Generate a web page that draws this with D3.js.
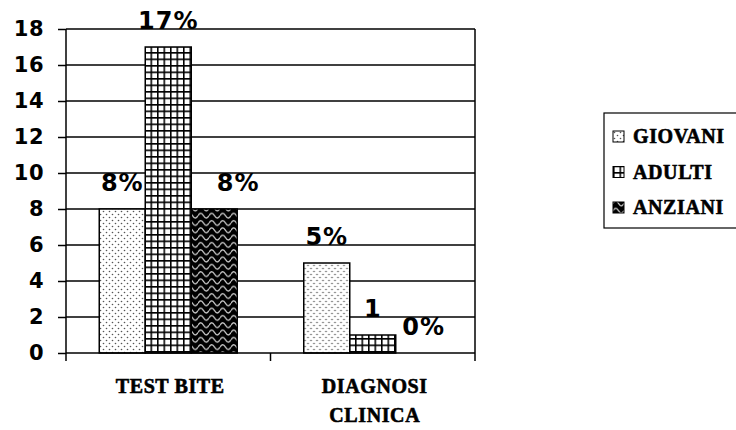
<!DOCTYPE html>
<html>
<head>
<meta charset="utf-8">
<script src="https://cdn.jsdelivr.net/npm/d3@7"></script>
<style>
  html, body { margin: 0; padding: 0; background: #fff; overflow: hidden; }
  svg { display: block; }
  .serif { font-family: "Liberation Serif", "Times New Roman", Times, serif; font-weight: 700;
           stroke: #000; stroke-width: 0.6px; }
  .sans { font-family: "DejaVu Sans", Verdana, sans-serif; font-weight: 700; }
</style>
</head>
<body>
<svg id="chart" width="736" height="430"></svg>
<script>
// Data
const categories = ["TEST BITE", "DIAGNOSI CLINICA"];
const series = ["GIOVANI", "ADULTI", "ANZIANI"];
const giovani = [8, 5];
const adulti = [17, 1];
const anziani = [8, 0];
const valueLabels = [["8%", "17%", "8%"], ["5%", "1", "0%"]];
const yTicks = [0, 2, 4, 6, 8, 10, 12, 14, 16, 18];

const values = [giovani, adulti, anziani];
const rows = categories.map((c, i) => ({
  category: c,
  bars: series.map((s, j) => ({ series: s, value: values[j][i], label: valueLabels[i][j] }))
}));

const svg = d3.select("#chart");
const plot = { left: 66, right: 475, top: 29, bottom: 353 };

// Fill patterns for the three series
const defs = svg.append("defs");
const pDots = defs.append("pattern").attr("id", "pat-giovani")
  .attr("patternUnits", "userSpaceOnUse").attr("width", 6).attr("height", 6);
pDots.append("rect").attr("width", 6).attr("height", 6).attr("fill", "#fff");
pDots.append("circle").attr("cx", 1.5).attr("cy", 1.5).attr("r", 0.8).attr("fill", "#555");
pDots.append("circle").attr("cx", 4.5).attr("cy", 4.5).attr("r", 0.8).attr("fill", "#555");

const pGrid = defs.append("pattern").attr("id", "pat-adulti")
  .attr("patternUnits", "userSpaceOnUse").attr("width", 6.5).attr("height", 6.5);
pGrid.append("rect").attr("width", 6.5).attr("height", 6.5).attr("fill", "#fff");
pGrid.append("path").attr("d", "M0.75,0V6.5M0,0.75H6.5")
  .attr("stroke", "#000").attr("stroke-width", 1.6).attr("fill", "none");

const pWave = defs.append("pattern").attr("id", "pat-anziani")
  .attr("patternUnits", "userSpaceOnUse").attr("width", 11).attr("height", 7.3);
pWave.append("rect").attr("width", 11).attr("height", 7.3).attr("fill", "#000");
pWave.append("path").attr("d", "M0,4 C2,0.8 3.5,0.8 5.5,4 C7.5,7.2 9,7.2 11,4")
  .attr("stroke", "#c8c8c8").attr("stroke-width", 1.3).attr("fill", "none");

const fills = { GIOVANI: "url(#pat-giovani)", ADULTI: "url(#pat-adulti)", ANZIANI: "url(#pat-anziani)" };

// Scales
const y = d3.scaleLinear().domain([0, 18]).range([plot.bottom, plot.top]);
const x0 = d3.scaleBand().domain(categories).range([plot.left, plot.right]).paddingInner(0).paddingOuter(0);
const x1 = d3.scaleBand().domain(series).range([0, x0.bandwidth()]).paddingInner(0).paddingOuter(0.723);

// Gridlines
svg.append("g").selectAll("line").data(yTicks.filter(t => t > 0)).join("line")
  .attr("x1", plot.left).attr("x2", plot.right)
  .attr("y1", d => y(d)).attr("y2", d => y(d))
  .attr("stroke", "#000").attr("stroke-width", 1.5);

// Right border of plot area
svg.append("line").attr("x1", plot.right).attr("x2", plot.right)
  .attr("y1", plot.top).attr("y2", plot.bottom)
  .attr("stroke", "#000").attr("stroke-width", 1.5);

// Bars
const groups = svg.append("g").selectAll("g").data(rows).join("g")
  .attr("transform", d => `translate(${x0(d.category)},0)`);
groups.selectAll("rect").data(d => d.bars.filter(b => b.value > 0)).join("rect")
  .attr("x", d => x1(d.series))
  .attr("y", d => y(d.value))
  .attr("width", x1.bandwidth())
  .attr("height", d => y(0) - y(d.value))
  .attr("fill", d => fills[d.series])
  .attr("stroke", "#000").attr("stroke-width", 1.5);

// Value labels (a couple nudged sideways so they clear neighbouring bars)
const nudge = { "TEST BITE|ANZIANI": 24, "DIAGNOSI CLINICA|ANZIANI": 5 };
groups.selectAll("text").data(d => d.bars.map(b => ({ ...b, category: d.category }))).join("text")
  .attr("class", "sans")
  .attr("x", d => x1(d.series) + x1.bandwidth() / 2 + (nudge[d.category + "|" + d.series] || 0))
  .attr("y", d => y(d.value) - 18)
  .attr("text-anchor", "middle")
  .attr("font-size", 24)
  .attr("letter-spacing", 1)
  .text(d => d.label);

// Y axis
const yAxis = svg.append("g").attr("transform", `translate(${plot.left},0)`)
  .call(d3.axisLeft(y).tickValues(yTicks).tickSize(8).tickPadding(14));
yAxis.attr("font-family", null).attr("font-size", null);
yAxis.select(".domain").attr("stroke", "#000").attr("stroke-width", 1.5)
  .attr("d", `M0,${plot.top}V${plot.bottom}`);
yAxis.selectAll(".tick line").attr("stroke", "#000").attr("stroke-width", 1.5);
yAxis.selectAll(".tick text")
  .attr("class", "sans")
  .attr("font-size", 21).attr("fill", "#000")
  .attr("letter-spacing", 0.5);

// X axis
const xAxis = svg.append("g").attr("transform", `translate(0,${plot.bottom})`);
xAxis.append("line").attr("x1", plot.left).attr("x2", plot.right)
  .attr("stroke", "#000").attr("stroke-width", 1.5);
const boundaries = [plot.left, ...categories.slice(1).map(c => x0(c)), plot.right];
xAxis.selectAll("line.tk").data(boundaries).join("line").attr("class", "tk")
  .attr("x1", d => d).attr("x2", d => d).attr("y1", 0).attr("y2", 8)
  .attr("stroke", "#000").attr("stroke-width", 1.5);

const catLabels = xAxis.selectAll("text").data(categories).join("text")
  .attr("class", "serif")
  .attr("x", d => x0(d) + x0.bandwidth() / 2 + 2)
  .attr("y", 40)
  .attr("text-anchor", "middle")
  .attr("font-size", 20)
  .attr("letter-spacing", 0.6);
catLabels.each(function (d) {
  const lines = d === "DIAGNOSI CLINICA" ? d.split(" ") : [d];
  const t = d3.select(this);
  lines.forEach((ln, i) => {
    t.append("tspan").attr("x", t.attr("x")).attr("dy", i === 0 ? 0 : 29).text(ln);
  });
});

// Legend
const legend = svg.append("g").attr("transform", "translate(604,113)");
legend.append("rect").attr("x", 0).attr("y", 0).attr("width", 150).attr("height", 115)
  .attr("fill", "#fff").attr("stroke", "#000").attr("stroke-width", 1.2);
const items = legend.selectAll("g").data(series).join("g")
  .attr("transform", (d, i) => `translate(9,${30 + i * 35.5})`);
items.append("rect").attr("x", 0).attr("y", -12).attr("width", 11).attr("height", 11)
  .attr("fill", d => fills[d]).attr("stroke", "#000").attr("stroke-width", 1);
items.append("text").attr("class", "serif").attr("x", 20).attr("y", 0)
  .attr("font-size", 20)
  .attr("letter-spacing", 0.6)
  .text(d => d);
</script>
</body>
</html>
